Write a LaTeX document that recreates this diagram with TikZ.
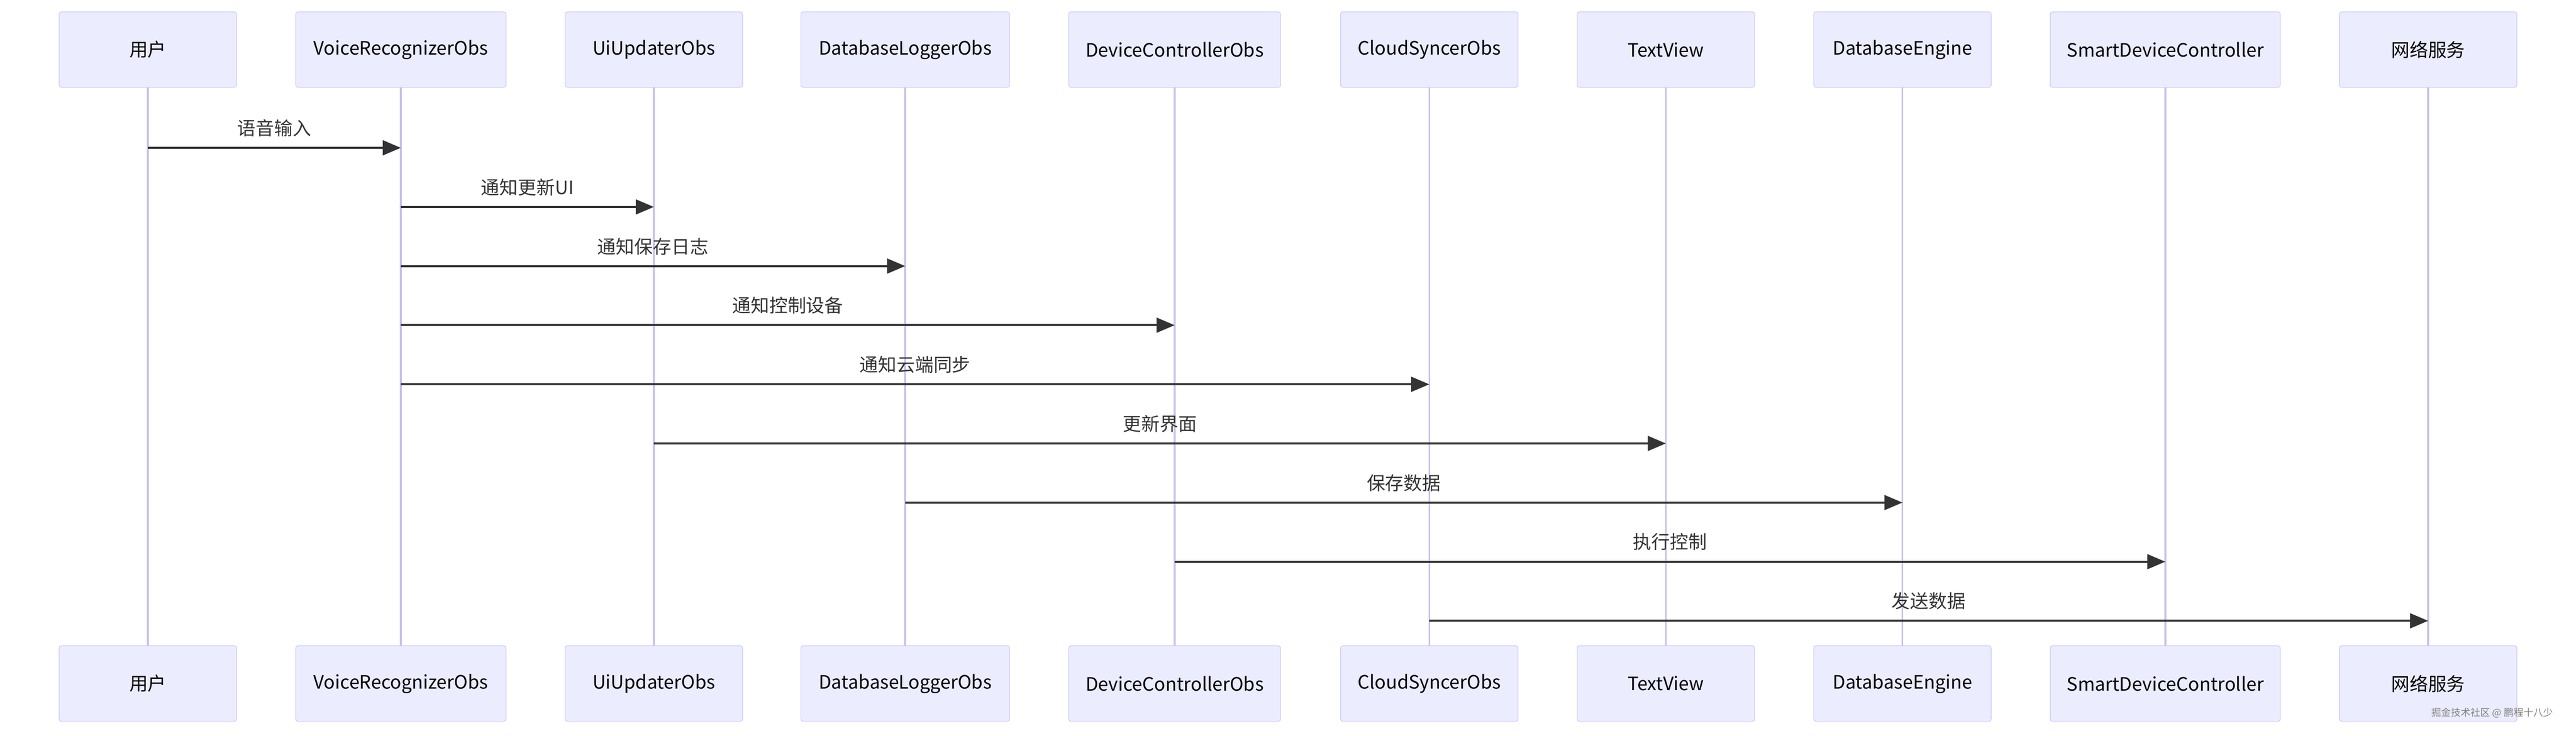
\documentclass[tikz,border=0pt]{standalone}
\usepackage{fontspec}
\setmainfont{Noto Sans CJK SC}
\usetikzlibrary{arrows.meta}
\definecolor{actfill}{HTML}{ECECFF}
\definecolor{actline}{HTML}{CCCCFF}
\definecolor{lifeline}{HTML}{C9C2EA}
\definecolor{msg}{HTML}{333333}
\tikzset{
  actor/.style={draw=actline,line width=1.2pt,fill=actfill,rounded corners=4pt,
    minimum height=4.6cm,inner sep=0pt,font=\fontsize{32}{38}\selectfont},
  life/.style={draw=lifeline,line width=3pt},
  call/.style={draw=msg,line width=3.5pt,-{Triangle[length=1.1cm,width=0.9cm]}},
  calltext/.style={font=\fontsize{32}{38}\selectfont,text=msg,above=0.5cm}
}
\begin{document}
\begin{tikzpicture}[x=0.1cm,y=-0.1cm]
\useasboundingbox (0,0) rectangle (1568,448);

% actors: name / centre / width
\foreach \n/\x/\w/\t in {1/90/108/用户, 2/244/128/VoiceRecognizerObs, 3/398/108/UiUpdaterObs,
    4/551/127/DatabaseLoggerObs, 5/715/129/DeviceControllerObs, 6/870/108/CloudSyncerObs,
    7/1014/108/TextView, 8/1158/108/DatabaseEngine, 9/1318/140/SmartDeviceController,
    10/1478/108/网络服务} {
  \draw[life] (\x,53) -- (\x,393);
  \node[actor,minimum width=\w mm,anchor=north] (t\n) at (\x,7) {\t};
  \node[actor,minimum width=\w mm,anchor=north] (b\n) at (\x,393) {\t};
}

% messages
\foreach \i/\y/\a/\b/\t in {1/90/1/2/语音输入, 2/126/2/3/通知更新UI, 3/162/2/4/通知保存日志,
    4/198/2/5/通知控制设备, 5/234/2/6/通知云端同步, 6/270/3/7/更新界面,
    7/306/4/8/保存数据, 8/342/5/9/执行控制, 9/378/6/10/发送数据} {
  \coordinate (r\i) at (0,\y);
  \draw[call] (t\a.south |- r\i) -- (t\b.south |- r\i)
    node[midway,calltext] {\t};
}

\node[text=gray,font=\fontsize{17}{20}\selectfont] (mark) at (1517,434) {掘金技术社区 @ 鹏程十八少};
\end{tikzpicture}
\end{document}
